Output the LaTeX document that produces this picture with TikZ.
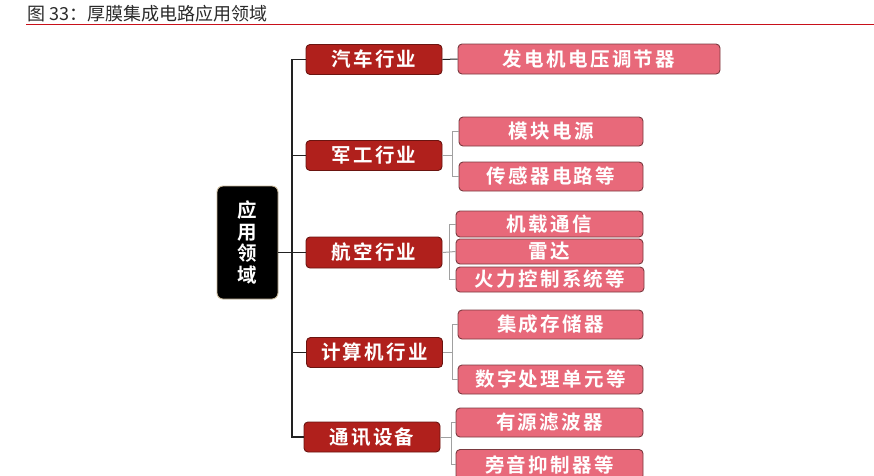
\documentclass[tikz,border=0pt]{standalone}
\usepackage{fontspec}
\setmainfont{Noto Sans CJK SC}
\newfontfamily\cjk{Noto Sans CJK SC}
\newfontfamily\cjkb[LetterSpace=12]{Noto Sans CJK SC Bold}
\newfontfamily\cjkr{Noto Sans CJK SC Bold}
\definecolor{lonered}{HTML}{B0201C}
\definecolor{loneedge}{HTML}{6B1410}
\definecolor{ltwopink}{HTML}{E8697A}
\definecolor{ltwoedge}{HTML}{7A3A40}
\definecolor{rootedge}{HTML}{C8B89A}
\definecolor{titlered}{HTML}{C8101A}
\definecolor{titletext}{HTML}{2A2A2A}
\definecolor{glinec}{HTML}{A0A0A0}
\definecolor{blinec}{HTML}{222222}
\begin{document}
\begin{tikzpicture}[x=1pt,y=1pt,
  boxtext/.style={text=white,font=\cjkb\fontsize{19.5}{21}\selectfont,inner sep=0pt,rounded corners=4pt,line width=0.9pt},
  lone/.style={boxtext,fill=lonered,draw=loneedge,minimum width=136pt,minimum height=30pt},
  ltwo/.style={boxtext,fill=ltwopink,draw=ltwoedge,minimum height=29pt},
  rootbox/.style={boxtext,fill=black,draw=rootedge,rounded corners=6pt,minimum width=61pt,minimum height=113pt,align=center,font=\cjkr\fontsize{19.5}{21.5}\selectfont},
  bline/.style={draw=blinec,line width=1.3pt},
  gline/.style={draw=glinec,line width=1pt}]
\useasboundingbox (0,0) rectangle (874,-475);
% title
\node[anchor=west,inner sep=0pt,text=titletext,font=\cjk\fontsize{18}{20}\selectfont] (title) at (27,-13.5) {图 33：厚膜集成电路应用领域};
\coordinate (rl) at (26,-24.5);
\coordinate (rr) at (874,-24.5);
\draw[titlered,line width=1.5pt] (rl) -- (rr);
% root
\node[rootbox] (root) at (247.5,-242.5) {应\\用\\领\\域};
% level one
\node[lone] (car) at (374,-59.5) {汽车行业};
\node[lone] (mil) at (374,-155.5) {军工行业};
\node[lone,minimum height=31pt] (air) at (374,-252.5) {航空行业};
\node[lone] (com) at (374.5,-352.5) {计算机行业};
\node[lone] (tel) at (372,-437) {通讯设备};
% level two
\node[ltwo,minimum width=262pt,minimum height=30pt] (c1) at (589,-59) {发电机电压调节器};
\node[ltwo,minimum width=184pt] (m1) at (551,-131.5) {模块电源};
\node[ltwo,minimum width=184pt] (m2) at (551,-176.5) {传感器电路等};
\node[ltwo,minimum width=187pt,minimum height=26pt] (a1) at (549.5,-224) {机载通信};
\node[ltwo,minimum width=187pt,minimum height=25pt] (a2) at (549.5,-251.5) {雷达};
\node[ltwo,minimum width=188pt,minimum height=25pt] (a3) at (550,-279.5) {火力控制系统等};
\node[ltwo,minimum width=185pt] (p1) at (550.5,-324.5) {集成存储器};
\node[ltwo,minimum width=185pt] (p2) at (550.5,-379.5) {数字处理单元等};
\node[ltwo,minimum width=187pt] (t1) at (549.5,-422.5) {有源滤波器};
\node[ltwo,minimum width=187pt,minimum height=30pt] (t2) at (549.5,-464.5) {旁音抑制器等};
% trunk
\coordinate (tx) at (292,0);
\draw[bline] (root.east |- air.west) -- (air.west);
\draw[bline] (car.west) -- (car.west -| tx) -- (tel.west -| tx) -- (tel.west);
\draw[bline] (mil.west -| tx) -- (mil.west);
\draw[bline] (com.west -| tx) -- (com.west);
% level two connectors
\draw[bline,line width=1pt] (car.east) -- (c1.west);
\coordinate (bm) at (452,0);
\draw[gline] (mil.east) -- (mil.east -| bm);
\draw[gline] (m1.west) -| (bm |- m2.west) -- (m2.west);
\coordinate (ba) at (449,0);
\draw[gline] (air.east) -- (a2.west);
\draw[gline] (a1.west) -| (ba |- a3.west) -- (a3.west);
\coordinate (bp) at (452,0);
\draw[gline] (com.east) -- (com.east -| bp);
\draw[gline] (p1.west) -| (bp |- p2.west) -- (p2.west);
\coordinate (bt) at (451,0);
\draw[gline] (tel.east) -- (tel.east -| bt);
\draw[gline] (t1.west) -| (bt |- t2.west) -- (t2.west);
\end{tikzpicture}
\end{document}
